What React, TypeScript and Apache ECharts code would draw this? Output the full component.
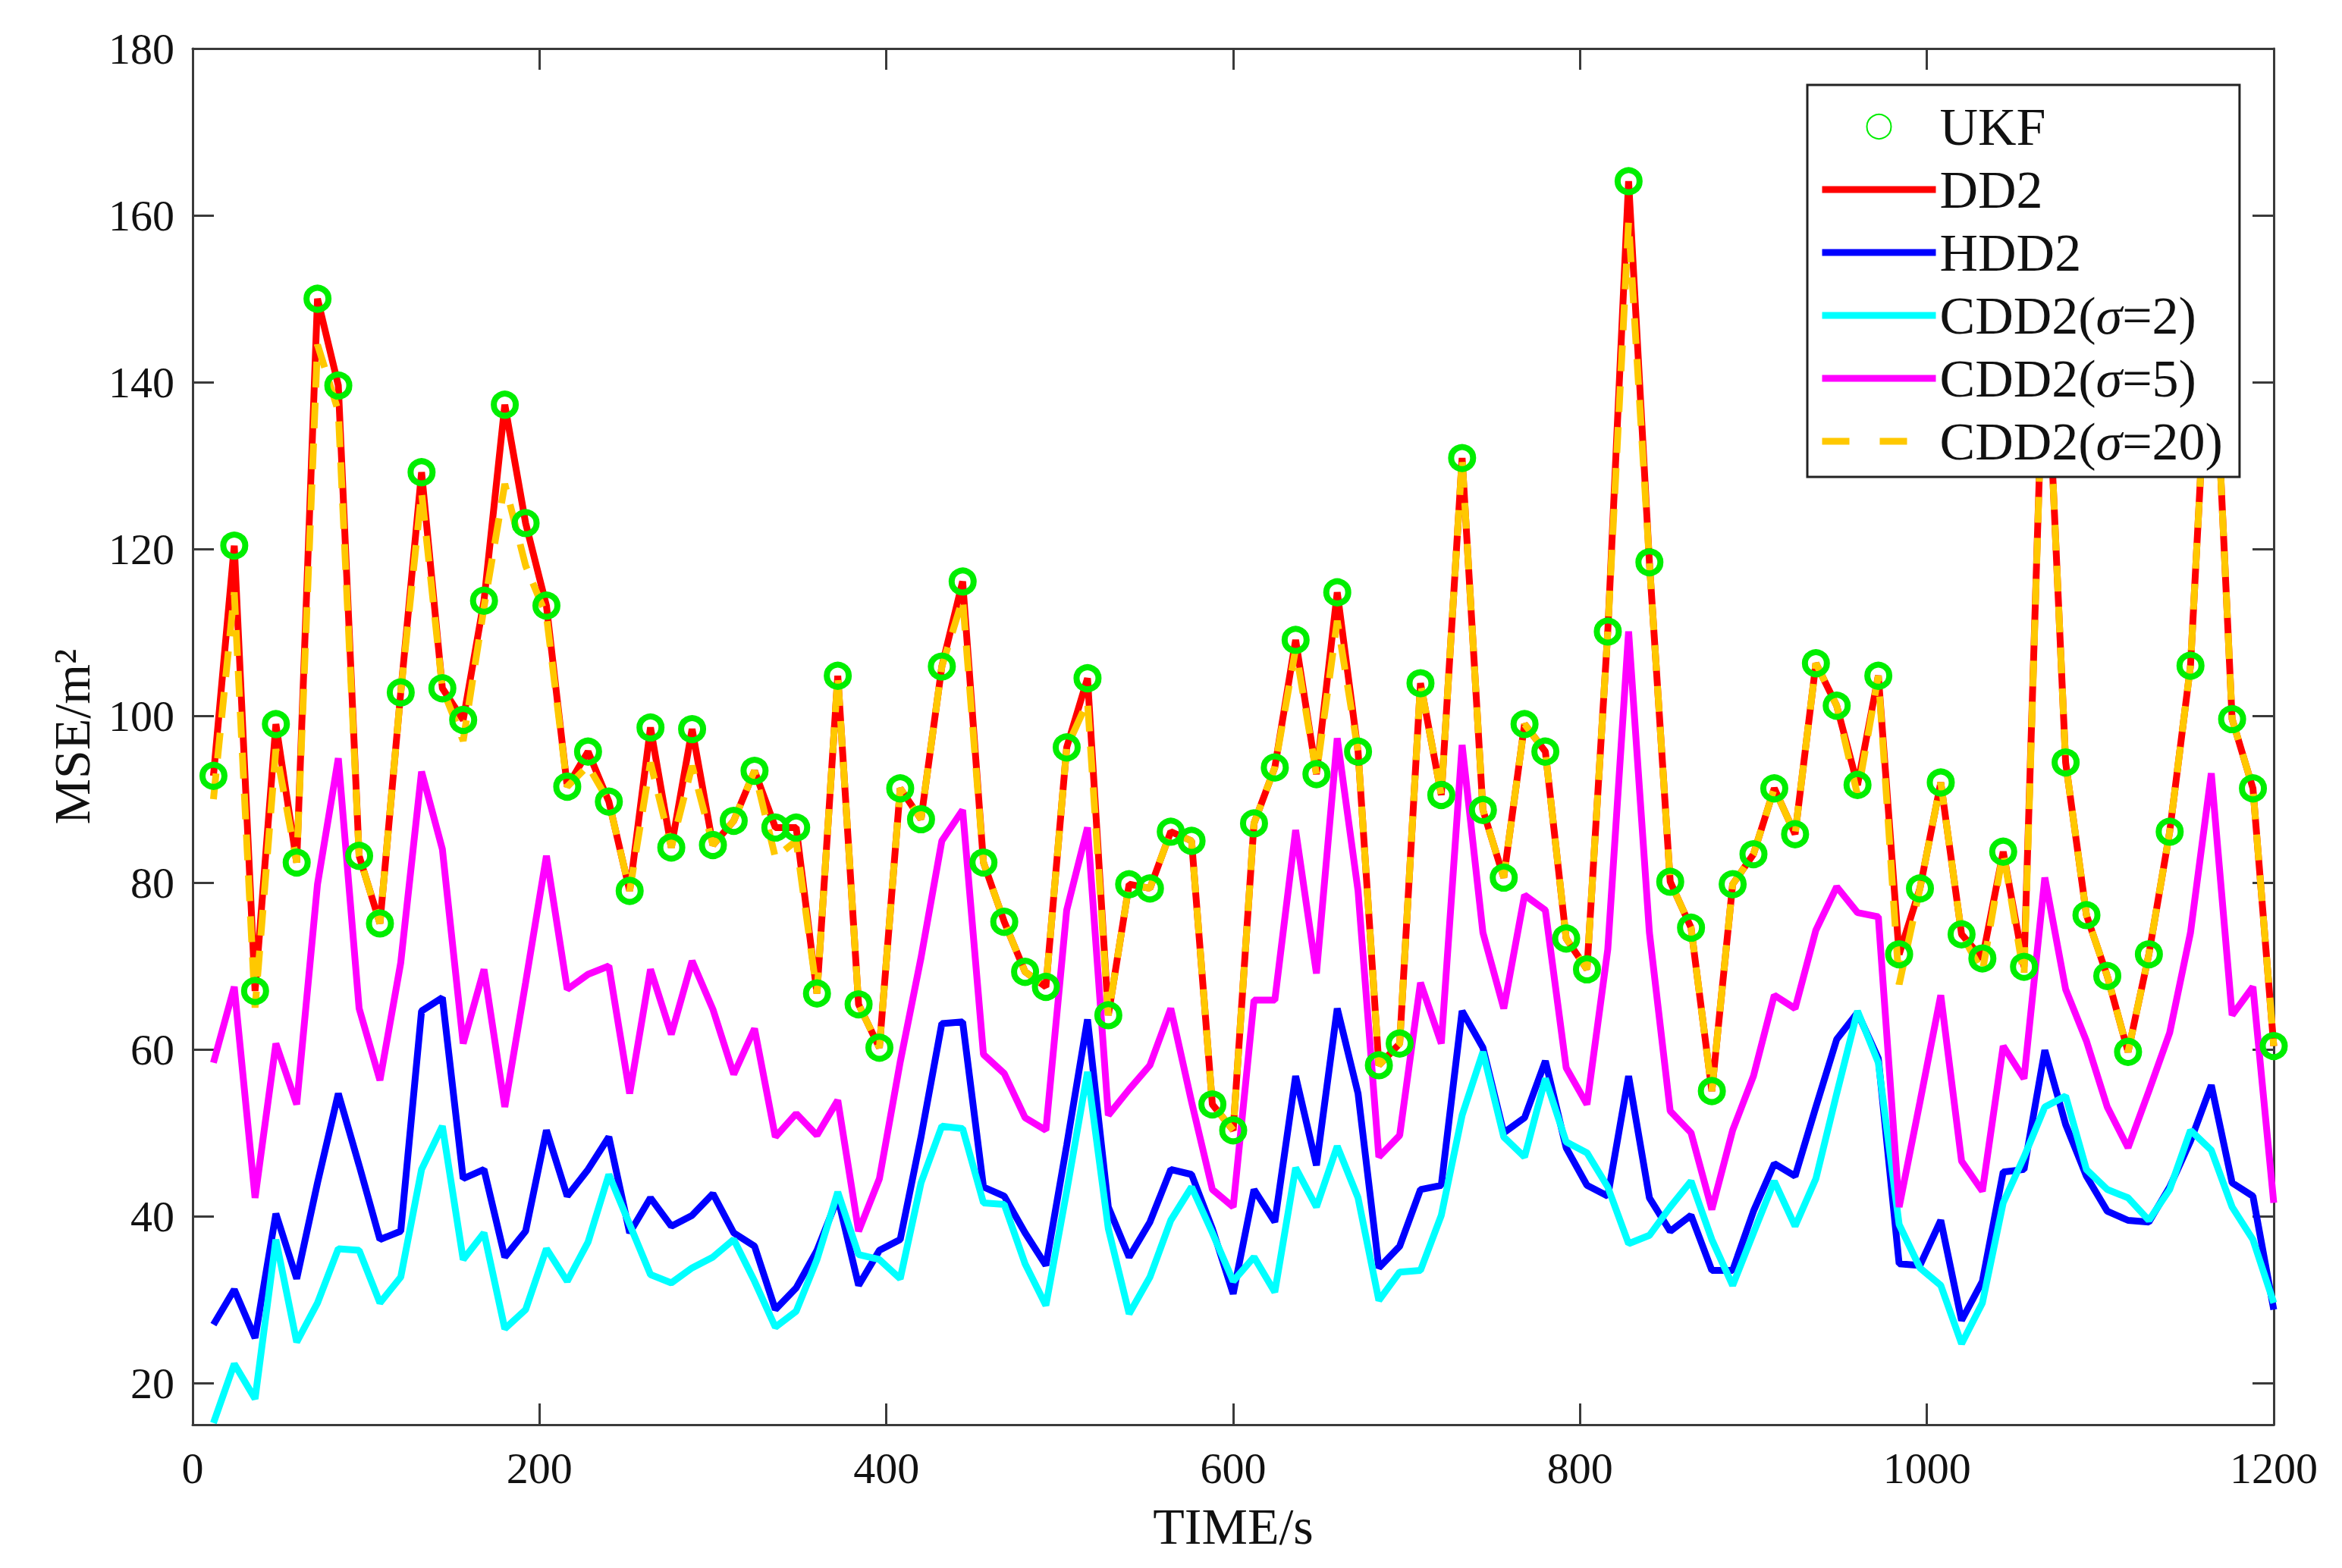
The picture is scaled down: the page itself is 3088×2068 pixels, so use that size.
import React, { useEffect, useRef } from "react";
import * as echarts from "echarts";

const times = [12,24,36,48,60,72,84,96,108,120,132,144,156,168,180,192,204,216,228,240,252,264,276,288,300,312,324,336,348,360,372,384,396,408,420,432,444,456,468,480,492,504,516,528,540,552,564,576,588,600,612,624,636,648,660,672,684,696,708,720,732,744,756,768,780,792,804,816,828,840,852,864,876,888,900,912,924,936,948,960,972,984,996,1008,1020,1032,1044,1056,1068,1080,1092,1104,1116,1128,1140,1152,1164,1176,1188,1200];

const ukf = [92.8,120.4,67.0,99.0,82.4,150.0,139.6,83.2,75.1,102.8,129.2,103.3,99.5,113.8,137.3,123.1,113.2,91.5,95.7,89.7,79.0,98.6,84.2,98.4,84.5,87.4,93.4,86.6,86.6,66.7,104.8,65.4,60.2,91.3,87.6,105.9,116.1,82.4,75.3,69.3,67.5,96.2,104.5,64.1,79.8,79.3,86.1,85.0,53.4,50.3,87.1,93.8,109.1,93.0,114.8,95.7,58.1,60.7,103.9,90.5,130.9,88.7,80.6,99.0,95.7,73.3,69.6,110.1,164.1,118.4,80.1,74.6,55.0,79.8,83.4,91.3,85.8,106.3,101.2,91.7,104.8,71.4,79.3,92.0,73.8,70.9,83.7,69.9,150.0,94.4,76.1,68.8,59.7,71.4,86.1,106.0,153.0,99.6,91.3,60.4];

const dd2 = [92.8,120.4,67.0,99.0,82.4,150.0,139.6,83.2,75.1,102.8,129.2,103.3,99.5,113.8,137.3,123.1,113.2,91.5,95.7,89.7,79.0,98.6,84.2,98.4,84.5,87.4,93.4,86.6,86.6,66.7,104.8,65.4,60.2,91.3,87.6,105.9,116.1,82.4,75.3,69.3,67.5,96.2,104.5,64.1,79.8,79.3,86.1,85.0,53.4,50.3,87.1,93.8,109.1,93.0,114.8,95.7,58.1,60.7,103.9,90.5,130.9,88.7,80.6,99.0,95.7,73.3,69.6,110.1,164.1,118.4,80.1,74.6,55.0,79.8,83.4,91.3,85.8,106.3,101.2,91.7,104.8,71.4,79.3,92.0,73.8,70.9,83.7,69.9,150.0,94.4,76.1,68.8,59.7,71.4,86.1,106.0,153.0,99.6,91.3,60.4];

const hdd2 = [27.0,31.2,25.4,40.3,32.5,44.0,54.7,46.1,37.2,38.2,64.6,66.2,44.5,45.6,35.1,38.2,50.3,42.4,45.6,49.5,38.0,42.2,38.8,40.1,42.7,38.0,36.4,28.8,31.4,35.9,42.2,31.7,35.9,37.2,49.5,63.1,63.3,43.5,42.4,38.0,34.1,48.5,63.6,41.1,35.1,39.3,45.6,45.0,38.5,30.7,43.2,39.3,56.8,46.1,64.9,54.7,33.8,36.4,43.2,43.7,64.6,60.2,50.0,51.8,58.6,48.2,43.7,42.4,56.8,42.2,38.2,40.1,33.5,33.5,40.6,46.3,44.8,53.1,61.2,64.4,58.9,34.3,34.1,39.5,27.5,32.2,45.3,45.6,59.9,51.0,44.8,40.6,39.5,39.3,43.5,49.0,55.7,44.0,42.4,28.8];

const cdd2s2 = [15.2,22.3,18.1,37.2,24.9,29.6,36.1,35.9,29.6,32.7,45.6,50.8,34.8,38.0,26.5,28.8,36.1,32.2,36.9,45.0,39.0,33.0,32.0,33.8,35.1,37.2,32.2,26.7,28.6,34.8,42.9,35.4,34.8,32.5,44.0,50.8,50.5,41.6,41.4,34.3,29.3,43.0,57.3,38.5,28.3,32.7,39.5,43.5,38.0,32.2,35.1,30.9,45.8,41.1,48.4,42.2,29.9,33.3,33.5,40.1,52.1,59.7,49.5,47.1,56.5,48.9,47.6,43.5,36.7,37.7,41.1,44.2,37.2,31.7,38.0,44.2,38.8,44.5,54.7,64.6,58.4,39.0,33.8,31.7,24.7,29.6,41.6,47.1,53.1,54.4,45.6,43.2,42.2,39.5,43.2,50.3,47.9,41.1,37.2,29.6];

const cdd2s5 = [58.4,67.5,42.2,60.7,53.4,79.8,94.9,64.9,56.3,70.4,93.3,84.0,60.7,69.6,53.1,68.0,83.2,67.2,69.0,70.0,54.7,69.6,61.8,70.6,64.8,57.0,62.5,49.5,52.3,49.7,53.9,38.2,44.5,58.5,71.0,85.0,88.7,59.4,57.1,51.8,50.3,76.7,86.6,52.1,55.2,58.1,64.9,53.7,43.2,41.1,65.9,65.9,86.3,69.1,97.3,79.0,47.1,49.7,68.0,60.7,96.5,74.0,64.9,78.5,76.7,57.8,53.4,72.0,110.1,74.0,52.6,50.0,40.8,50.3,56.8,66.5,64.9,74.3,79.5,76.4,75.9,41.1,53.7,66.5,46.6,43.0,60.4,56.5,80.6,67.2,61.0,53.1,48.2,55.0,62.0,74.0,93.1,64.1,67.5,41.6];

const cdd2s20 = [90.0,114.8,65.0,96.0,82.4,144.5,136.5,83.2,75.1,102.8,126.8,103.3,97.0,113.0,127.8,118.0,112.0,91.5,94.0,89.7,79.0,94.4,84.2,94.0,84.5,87.4,93.4,83.0,85.0,66.7,104.8,65.4,60.2,91.3,87.6,105.9,114.0,82.4,75.3,69.3,67.5,96.2,101.7,64.1,79.8,79.3,86.1,85.0,53.4,50.3,87.1,93.8,108.0,93.0,111.4,95.7,58.1,60.7,103.9,90.5,130.9,88.7,80.6,99.0,95.7,73.3,69.6,110.1,159.2,118.4,80.1,74.6,55.0,79.8,83.4,91.3,85.8,106.3,101.2,90.5,104.8,67.8,79.3,92.0,73.8,69.3,83.7,68.8,150.0,94.4,76.1,68.8,59.7,71.4,86.1,106.0,153.0,99.6,91.3,60.4];

const xTicks = [0, 200, 400, 600, 800, 1000, 1200];
const yTicks = [20, 40, 60, 80, 100, 120, 140, 160, 180];

const FONT = "Liberation Serif";
const AXIS_COLOR = "#3a3a3a";
const TEXT_COLOR = "#111111";
const LINE_W = 9;

function pairs(values: number[]) {
  return values.map((v, i) => [times[i], v]);
}

export default function App() {
  const ref = useRef<HTMLDivElement>(null);

  useEffect(() => {
    document.body.style.margin = "0";
    if (!ref.current) return;
    const chart = echarts.init(ref.current, null, { renderer: "svg" });

    const lineSeries = (name: string, values: number[], color: string, extraLine: any = {}) => ({
      name,
      type: "line",
      data: pairs(values),
      symbol: "none",
      lineStyle: { color, width: LINE_W, ...extraLine },
      itemStyle: { color },
    });

    const legendLine = (name: string, color: string, extra: any = {}) => ({
      name,
      itemStyle: { opacity: 0 },
      lineStyle: { color, width: LINE_W, opacity: 1, ...extra },
    });

    const option: any = {
      animation: false,
      backgroundColor: "#ffffff",
      grid: { left: 254, right: 90, top: 64, bottom: 189, containLabel: false },
      legend: {
        left: 2383,
        top: 112,
        orient: "vertical",
        padding: [20, 22, 12, 15],
        itemWidth: 150,
        itemHeight: 40,
        itemGap: 13,
        backgroundColor: "#ffffff",
        borderColor: "#222222",
        borderWidth: 3,
        borderRadius: 0,
        selectedMode: false,
        data: [
          { name: "UKF" },
          legendLine("DD2", "#ff0000"),
          legendLine("HDD2", "#0000ff"),
          legendLine("CDD2(σ=2)", "#00ffff"),
          legendLine("CDD2(σ=5)", "#ff00ff"),
          legendLine("CDD2(σ=20)", "#ffc800", { type: [36, 40], cap: "butt" }),
        ],
        formatter: (name: string) => name.replace("σ", "{i|σ}"),
        textStyle: {
          fontFamily: FONT,
          fontSize: 70,
          color: TEXT_COLOR,
          lineHeight: 60,
          rich: {
            i: { fontFamily: FONT, fontSize: 70, fontStyle: "italic", color: TEXT_COLOR, lineHeight: 60 },
          },
        },
      },
      xAxis: [
        {
          type: "value",
          min: 0,
          max: 1200,
          interval: 200,
          position: "bottom",
          name: "TIME/s",
          nameLocation: "middle",
          nameGap: 100,
          nameTextStyle: { fontFamily: FONT, fontSize: 68, color: TEXT_COLOR },
          axisLine: { show: true, onZero: false, lineStyle: { color: AXIS_COLOR, width: 3 } },
          axisTick: { show: true, inside: true, length: 28, lineStyle: { color: AXIS_COLOR, width: 3 } },
          axisLabel: {
            show: true,
            margin: 28,
            fontFamily: FONT,
            fontSize: 58,
            color: TEXT_COLOR,
            formatter: (v: number) => String(v),
          },
          splitLine: { show: false },
        },
        {
          type: "value",
          min: 0,
          max: 1200,
          interval: 200,
          position: "top",
          axisLine: { show: true, onZero: false, lineStyle: { color: AXIS_COLOR, width: 3 } },
          axisTick: { show: true, inside: true, length: 28, lineStyle: { color: AXIS_COLOR, width: 3 } },
          axisLabel: { show: false },
          splitLine: { show: false },
        },
      ],
      yAxis: [
        {
          type: "value",
          min: 15,
          max: 180,
          position: "left",
          name: "MSE/m²",
          nameLocation: "middle",
          nameGap: 125,
          nameRotate: 90,
          nameTextStyle: { fontFamily: FONT, fontSize: 68, color: TEXT_COLOR },
          axisLine: { show: true, onZero: false, lineStyle: { color: AXIS_COLOR, width: 3 } },
          axisTick: {
            show: true,
            inside: true,
            length: 28,
            customValues: yTicks,
            lineStyle: { color: AXIS_COLOR, width: 3 },
          },
          axisLabel: {
            show: true,
            margin: 24,
            fontFamily: FONT,
            fontSize: 58,
            color: TEXT_COLOR,
            customValues: yTicks,
          },
          splitLine: { show: false },
        },
        {
          type: "value",
          min: 15,
          max: 180,
          position: "right",
          axisLine: { show: true, onZero: false, lineStyle: { color: AXIS_COLOR, width: 3 } },
          axisTick: {
            show: true,
            inside: true,
            length: 28,
            customValues: yTicks,
            lineStyle: { color: AXIS_COLOR, width: 3 },
          },
          axisLabel: { show: false, customValues: yTicks },
          splitLine: { show: false },
        },
      ],
      series: [
        {
          name: "UKF",
          type: "line",
          data: pairs(ukf),
          symbol: "circle",
          symbolSize: 29,
          showSymbol: true,
          lineStyle: { width: 0, opacity: 0, color: "#00ee00" },
          itemStyle: { color: "rgba(255,255,255,0)", borderColor: "#00ee00", borderWidth: 8 },
        },
        lineSeries("DD2", dd2, "#ff0000"),
        lineSeries("HDD2", hdd2, "#0000ff"),
        lineSeries("CDD2(σ=2)", cdd2s2, "#00ffff"),
        lineSeries("CDD2(σ=5)", cdd2s5, "#ff00ff"),
        lineSeries("CDD2(σ=20)", cdd2s20, "#ffc800", { type: [34, 20], cap: "butt" }),
      ],
    };

    chart.setOption(option);
    return () => {
      chart.dispose();
    };
  }, []);

  return <div ref={ref} style={{ width: 3088, height: 2068 }} />;
}
